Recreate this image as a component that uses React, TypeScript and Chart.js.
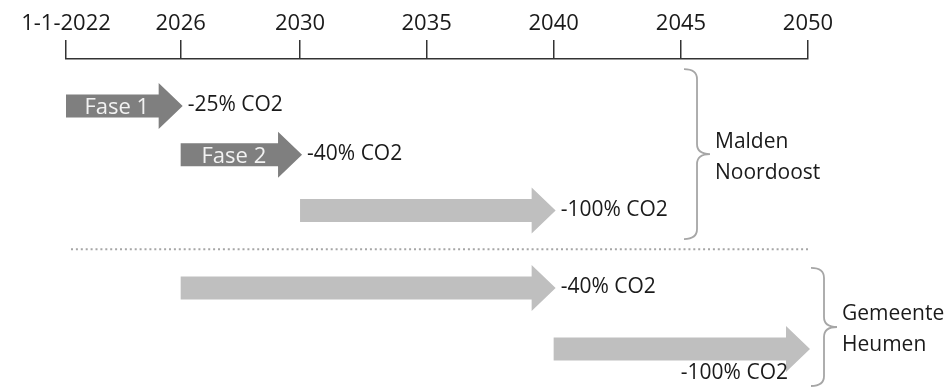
import React, { useEffect, useRef } from 'react';
import { Chart, registerables } from 'chart.js';

Chart.register(...registerables);

// Timeline axis (positions as drawn, in ~5-year units from the start)
const tickLabels = ['1-1-2022', '2026', '2030', '2035', '2040', '2045', '2050'];
const tickPositions = [0, 0.903, 1.843, 2.84, 3.84, 4.843, 5.843];

// Arrows
const arrowStart = ['1-1-2022', '2026', '2030', '2026', '2040'];
const arrowEnd = ['2026', '2030', '2040', '2040', '2050'];
const arrowLane = [1.43, 2.92, 4.62, 6.98, 8.84];
const arrowPhase = ['Fase 1', 'Fase 2', '', '', ''];
const arrowTarget = ['-25% CO2', '-40% CO2', '-100% CO2', '-40% CO2', '-100% CO2'];
const arrowShade = ['dark', 'dark', 'light', 'light', 'light'];
const arrowLabelPlace = ['right', 'right', 'right', 'right', 'below'];

// Groups (braces)
const groupNames = [['Malden', 'Noordoost'], ['Gemeente', 'Heumen']];
const groupAt = ['2045', '2050'];
const groupFrom = [0.31, 6.37];
const groupTo = [5.49, 9.97];

// Divider between groups
const dividerLane = 5.8;

const FONT = "'Open Sans', sans-serif";
const TEXT = '#1a1a1a';
const pos = (label: string) => tickPositions[tickLabels.indexOf(label)];

const timelinePlugin = {
  id: 'timeline',
  afterDatasetsDraw(chart: any) {
    const { ctx } = chart;
    const xs = chart.scales.x;
    const ys = chart.scales.y;
    ctx.save();

    // divider (dotted)
    const dy = ys.getPixelForValue(dividerLane);
    ctx.beginPath();
    ctx.setLineDash([2, 2.9]);
    ctx.lineWidth = 2;
    ctx.strokeStyle = '#a6a6a6';
    ctx.moveTo(xs.getPixelForValue(tickPositions[0]) + 5, dy);
    ctx.lineTo(xs.getPixelForValue(tickPositions[tickPositions.length - 1]), dy);
    ctx.stroke();
    ctx.setLineDash([]);

    // arrows
    const sh = 11.5, hh = 23, hl = 24;
    arrowLane.forEach((lane, i) => {
      const y = ys.getPixelForValue(lane);
      const x0 = xs.getPixelForValue(pos(arrowStart[i]));
      const x1 = xs.getPixelForValue(pos(arrowEnd[i])) + 2;
      ctx.beginPath();
      ctx.moveTo(x0, y - sh);
      ctx.lineTo(x1 - hl, y - sh);
      ctx.lineTo(x1 - hl, y - hh);
      ctx.lineTo(x1, y);
      ctx.lineTo(x1 - hl, y + hh);
      ctx.lineTo(x1 - hl, y + sh);
      ctx.lineTo(x0, y + sh);
      ctx.closePath();
      ctx.fillStyle = arrowShade[i] === 'dark' ? '#7f7f7f' : '#bfbfbf';
      ctx.fill();

      if (arrowPhase[i]) {
        ctx.font = `22px ${FONT}`;
        ctx.fillStyle = '#f2f2f2';
        ctx.textAlign = 'center';
        ctx.textBaseline = 'alphabetic';
        ctx.fillText(arrowPhase[i], (x0 + x1 - hl) / 2 + 4.5, y + 8);
      }
      ctx.font = `21px ${FONT}`;
      ctx.fillStyle = TEXT;
      ctx.textBaseline = 'alphabetic';
      if (arrowLabelPlace[i] === 'right') {
        ctx.textAlign = 'left';
        ctx.fillText(arrowTarget[i], x1 + 5, y + 5.5);
      } else {
        ctx.textAlign = 'right';
        ctx.fillText(arrowTarget[i], x1 - 22, y + 30);
      }
    });

    // braces
    groupNames.forEach((names, g) => {
      const bx = xs.getPixelForValue(pos(groupAt[g])) + 3;
      const yt = ys.getPixelForValue(groupFrom[g]);
      const yb = ys.getPixelForValue(groupTo[g]);
      const ym = (yt + yb) / 2;
      const vx = bx + 13;
      const px = bx + 26;
      const r = 10;
      ctx.beginPath();
      ctx.lineWidth = 1.8;
      ctx.strokeStyle = '#a6a6a6';
      ctx.moveTo(bx, yt);
      ctx.quadraticCurveTo(vx, yt, vx, yt + r);
      ctx.lineTo(vx, ym - r);
      ctx.quadraticCurveTo(vx, ym, px, ym);
      ctx.quadraticCurveTo(vx, ym, vx, ym + r);
      ctx.lineTo(vx, yb - r);
      ctx.quadraticCurveTo(vx, yb, bx, yb);
      ctx.stroke();

      ctx.font = `21px ${FONT}`;
      ctx.fillStyle = TEXT;
      ctx.textAlign = 'left';
      ctx.textBaseline = 'alphabetic';
      ctx.fillText(names[0], px + 5, ym - 6.5);
      ctx.fillText(names[1], px + 5, ym + 24.5);
    });

    ctx.restore();
  },
};

export default function App() {
  const canvasRef = useRef<HTMLCanvasElement | null>(null);

  useEffect(() => {
    if (!canvasRef.current) return;
    const points = arrowLane.flatMap((lane, i) => [
      { x: pos(arrowStart[i]), y: lane },
      { x: pos(arrowEnd[i]), y: lane },
    ]);
    const chart = new Chart(canvasRef.current, {
      type: 'scatter',
      data: {
        datasets: [
          {
            label: 'Tijdlijn',
            data: points,
            pointRadius: 0,
            pointHoverRadius: 0,
            showLine: false,
          },
        ],
      },
      options: {
        animation: false,
        responsive: false,
        devicePixelRatio: 1,
        events: [],
        layout: { padding: { left: 66, right: 136, top: 7, bottom: 0 } },
        plugins: {
          legend: { display: false },
          tooltip: { enabled: false },
        },
        scales: {
          x: {
            type: 'linear',
            position: 'top',
            min: tickPositions[0],
            max: tickPositions[tickPositions.length - 1],
            afterBuildTicks: (scale: any) => {
              scale.ticks = tickPositions.map((v) => ({ value: v }));
            },
            grid: {
              drawOnChartArea: false,
              drawTicks: true,
              tickLength: 19,
              color: '#333333',
              lineWidth: 1.5,
            },
            border: { display: true, color: '#333333', width: 1.5 },
            ticks: {
              autoSkip: false,
              maxRotation: 0,
              padding: 3.3,
              color: TEXT,
              font: { family: FONT, size: 22 },
              callback: (_v: any, i: number) => tickLabels[i],
            },
          },
          y: {
            type: 'linear',
            display: false,
            min: 0,
            max: 10,
            reverse: true,
          },
        },
      },
      plugins: [timelinePlugin],
    });
    return () => chart.destroy();
  }, []);

  return (
    <div style={{ position: 'absolute', left: 0, top: 0, width: 944, height: 387 }}>
      <canvas ref={canvasRef} width={944} height={387} />
    </div>
  );
}
